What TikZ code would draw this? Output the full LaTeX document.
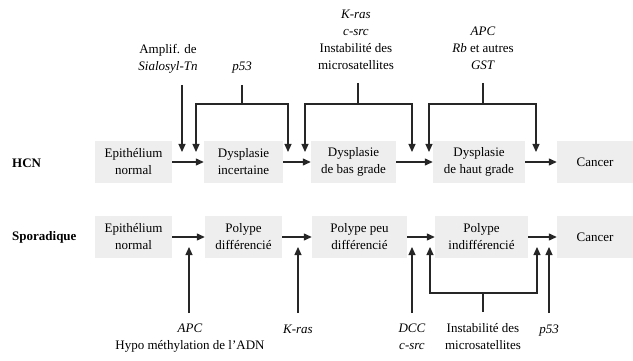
\documentclass[tikz,border=0pt]{standalone}
\usepackage{fontspec}
\setmainfont{Liberation Serif}
\usetikzlibrary{arrows.meta}
\newcommand\dfont{\fontsize{13}{17}\selectfont}
\begin{document}
\begin{tikzpicture}[x=1pt,y=-1pt,
  stage/.style={fill=gray!13,inner sep=0pt,align=center,font=\dfont,minimum height=42pt},
  lbl/.style={inner sep=0pt,align=center,font=\dfont},
  rowlbl/.style={inner sep=0pt,anchor=west,font=\dfont\bfseries},
  tip/.style={Triangle[length=8pt,width=7pt]},
  arr/.style={-{Triangle[length=8pt,width=7pt]},line width=1.2pt,draw=black!85},
  darr/.style={{Triangle[length=8pt,width=7pt]}-{Triangle[length=8pt,width=7pt]},line width=1.2pt,draw=black!85},
  ln/.style={line width=1.2pt,draw=black!85}]
\useasboundingbox (0,0) rectangle (633,361);

% row labels
\node[rowlbl] (lHCN) at (12,163) {HCN};
\node[rowlbl] (lSpor) at (12,237) {Sporadique};

% row 1
\node[stage,minimum width=77pt] (a1) at (133.5,162) {Epithélium\\normal};
\node[stage,minimum width=79pt] (a2) at (243.5,162) {Dysplasie\\incertaine};
\node[stage,minimum width=85pt] (a3) at (353.5,162) {Dysplasie\\de bas grade};
\node[stage,minimum width=92pt] (a4) at (479,162) {Dysplasie\\de haut grade};
\node[stage,minimum width=76pt] (a5) at (595,162) {Cancer};
% row 2
\node[stage,minimum width=77pt] (s1) at (133.5,237) {Epithélium\\normal};
\node[stage,minimum width=77pt] (s2) at (243.5,237) {Polype\\différencié};
\node[stage,minimum width=95pt] (s3) at (359.5,237) {Polype peu\\différencié};
\node[stage,minimum width=93pt] (s4) at (481.5,237) {Polype\\indifférencié};
\node[stage,minimum width=76pt] (s5) at (595,237) {Cancer};

\draw[arr] (a1) -- (a2);
\draw[arr] (a2) -- (a3);
\draw[arr] (a3) -- (a4);
\draw[arr] (a4) -- (a5);
\draw[arr] (s1) -- (s2);
\draw[arr] (s2) -- (s3);
\draw[arr] (s3) -- (s4);
\draw[arr] (s4) -- (s5);

% top labels
\node[lbl] (tSial) at (168,58.5) {\strut Amplif. de\\\strut \textit{Sialosyl-Tn}};
\node[lbl] (tP53) at (242,67) {\strut\textit{p53}};
\node[lbl] (tKras) at (356,40.5) {\strut\textit{K-ras}\\\strut\textit{c-src}\\\strut Instabilité des\\\strut microsatellites};
\node[lbl] (tAPC) at (483,49.5) {\strut\textit{APC}\\\strut\textit{Rb} et autres\\\strut\textit{GST}};

% top coordinates
\coordinate (sialA) at (182,85);  \coordinate (sialB) at (182,152);
\coordinate (p53A) at (242,85);   \coordinate (p53B) at (242,104);
\coordinate (p53L) at (196,152);  \coordinate (p53LT) at (196,104);
\coordinate (p53RT) at (288,104); \coordinate (p53R) at (288,152);
\coordinate (krA) at (358,83);    \coordinate (krB) at (358,104);
\coordinate (krL) at (305,152);   \coordinate (krLT) at (305,104);
\coordinate (krRT) at (412,104);  \coordinate (krR) at (412,152);
\coordinate (apA) at (483,83);    \coordinate (apB) at (483,104);
\coordinate (apL) at (429,152);   \coordinate (apLT) at (429,104);
\coordinate (apRT) at (536,104);  \coordinate (apR) at (536,152);

\draw[arr] (sialA) -- (sialB);
\draw[ln] (p53A) -- (p53B);
\draw[darr] (p53L) -- (p53LT) -- (p53RT) -- (p53R);
\draw[ln] (krA) -- (krB);
\draw[darr] (krL) -- (krLT) -- (krRT) -- (krR);
\draw[ln] (apA) -- (apB);
\draw[darr] (apL) -- (apLT) -- (apRT) -- (apR);

% bottom labels
\node[lbl] (bAPC) at (190,338) {\strut\textit{APC}\\\strut Hypo méthylation de l'ADN};
\node[lbl] (bKras) at (298,330) {\strut\textit{K-ras}};
\node[lbl] (bDCC) at (412,338) {\strut\textit{DCC}\\\strut\textit{c-src}};
\node[lbl] (bInst) at (483,338) {\strut Instabilité des\\\strut microsatellites};
\node[lbl] (bP53) at (549,330) {\strut\textit{p53}};

\coordinate (bapA) at (189,313);  \coordinate (bapB) at (189,247);
\coordinate (bkrA) at (298,313);  \coordinate (bkrB) at (298,247);
\coordinate (bdcA) at (412,313);  \coordinate (bdcB) at (412,247);
\coordinate (biA) at (483,312);   \coordinate (biB) at (483,293);
\coordinate (biL) at (430,247);   \coordinate (biLB) at (430,293);
\coordinate (biRB) at (537,293);  \coordinate (biR) at (537,247);
\coordinate (bpA) at (549,313);   \coordinate (bpB) at (549,247);

\draw[arr] (bapA) -- (bapB);
\draw[arr] (bkrA) -- (bkrB);
\draw[arr] (bdcA) -- (bdcB);
\draw[ln] (biA) -- (biB);
\draw[darr] (biL) -- (biLB) -- (biRB) -- (biR);
\draw[arr] (bpA) -- (bpB);
\end{tikzpicture}
\end{document}
